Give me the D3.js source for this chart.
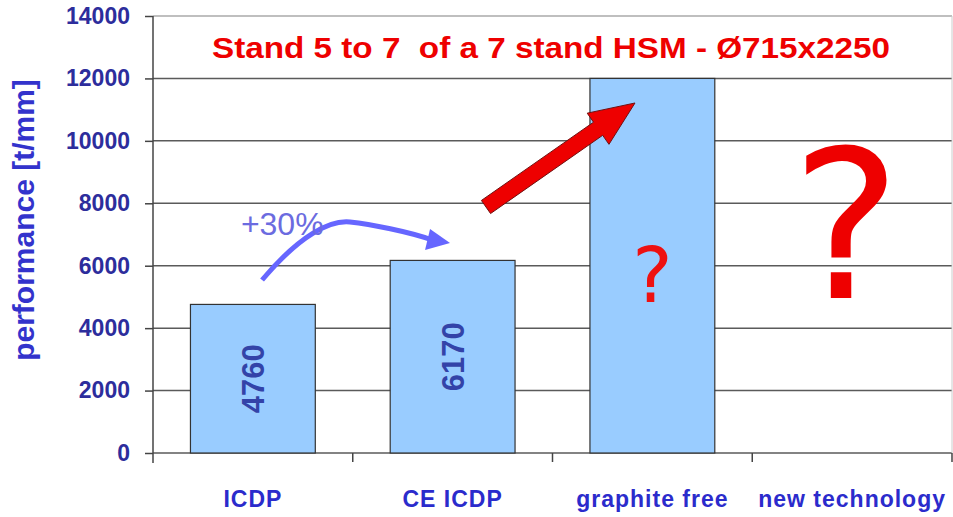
<!DOCTYPE html>
<html>
<head>
<meta charset="utf-8">
<script src="https://cdn.jsdelivr.net/npm/d3@7"></script>
<style>
  body { margin: 0; background: #fff; }
  text { font-family: "Liberation Sans", Arial, sans-serif; }
  text.qmark { font-family: Verdana, "DejaVu Sans", "Liberation Sans"; }
</style>
</head>
<body>
<script>
// chart data
var categories = ["ICDP", "CE ICDP", "graphite free", "new technology"];
var values = [4760, 6170, 12000, null];
var barLabels = ["4760", "6170", "?", ""];
var yTicks = [0, 2000, 4000, 6000, 8000, 10000, 12000, 14000];
var title = "Stand 5 to 7  of a 7 stand HSM - \u00d8715x2250";
var yTitle = "performance [t/mm]";

var svgWidth = 953;
var svgHeight = 517;

var margin = { top: 16, right: 1, bottom: 64, left: 153 };
var chartWidth = svgWidth - margin.left - margin.right;
var chartHeight = svgHeight - margin.top - margin.bottom;

var svg = d3.select("body")
  .append("svg")
  .attr("width", svgWidth)
  .attr("height", svgHeight);

var chartGroup = svg.append("g")
  .attr("transform", `translate(${margin.left}, ${margin.top})`);

var xBand = d3.scaleBand()
  .domain(categories)
  .range([0, chartWidth])
  .paddingInner(0.375)
  .paddingOuter(0.1875);

// continuous version of the category axis, for the annotations
var xUnit = d3.scaleLinear().domain([0, categories.length]).range([0, chartWidth]);

var yLinearScale = d3.scaleLinear()
  .domain([0, 14000])
  .range([chartHeight, 0]);

// gridlines
chartGroup.append("g")
  .selectAll("line")
  .data(yTicks)
  .enter()
  .append("line")
  .attr("x1", 0)
  .attr("x2", chartWidth)
  .attr("y1", d => yLinearScale(d))
  .attr("y2", d => yLinearScale(d))
  .attr("stroke", d => d == 14000 ? "#aaa" : "#5a5a5a")
  .attr("stroke-width", 1.5);

// right border
chartGroup.append("line")
  .attr("x1", chartWidth).attr("x2", chartWidth)
  .attr("y1", 0).attr("y2", chartHeight)
  .attr("stroke", "#ccc");

// y axis
var leftAxis = d3.axisLeft(yLinearScale)
  .tickValues(yTicks)
  .tickSize(8)
  .tickPadding(15)
  .tickFormat(d3.format("d"));

var yAxisG = chartGroup.append("g").call(leftAxis);
yAxisG.select(".domain").remove();
yAxisG.selectAll(".tick line").attr("stroke", "#444").attr("stroke-width", 1.5);
yAxisG.selectAll(".tick text")
  .style("font-size", "23px")
  .style("font-weight", "bold")
  .style("font-family", "'Liberation Sans', Arial, sans-serif")
  .attr("fill", "#2d2d9c");

chartGroup.append("line")
  .attr("x1", 0).attr("x2", 0)
  .attr("y1", 0).attr("y2", chartHeight + 10)
  .attr("stroke", "#444")
  .attr("stroke-width", 1.5);

// x axis ticks between categories
chartGroup.append("g")
  .selectAll("line")
  .data(d3.range(1, categories.length + 1))
  .enter()
  .append("line")
  .attr("x1", d => xUnit(d))
  .attr("x2", d => xUnit(d))
  .attr("y1", chartHeight)
  .attr("y2", chartHeight + 9)
  .attr("stroke", "#444")
  .attr("stroke-width", 1.5);

// x labels
chartGroup.append("g")
  .selectAll("text")
  .data(categories)
  .enter()
  .append("text")
  .attr("x", d => xBand(d) + xBand.bandwidth() / 2)
  .attr("y", chartHeight + 54)
  .attr("text-anchor", "middle")
  .style("font-size", "23px")
  .style("font-weight", "bold")
  .style("letter-spacing", "1px")
  .attr("fill", "#2b2bcc")
  .text(d => d);

// bars
chartGroup.append("g")
  .selectAll("rect")
  .data(categories.filter((c, i) => values[i] != null))
  .enter()
  .append("rect")
  .attr("x", d => xBand(d))
  .attr("width", xBand.bandwidth())
  .attr("y", d => yLinearScale(values[categories.indexOf(d)]))
  .attr("height", d => chartHeight - yLinearScale(values[categories.indexOf(d)]))
  .attr("fill", "#99ccff")
  .attr("stroke", "#333")
  .attr("stroke-width", 1.2);

// value labels inside bars
categories.forEach(function(c, i) {
  if (values[i] == null || barLabels[i] == "") return;
  var cx = xBand(c) + xBand.bandwidth() / 2;
  var cy = (yLinearScale(values[i]) + chartHeight) / 2;
  if (barLabels[i] == "?") {
    chartGroup.append("text")
      .attr("class", "qmark")
      .attr("x", cx)
      .attr("y", yLinearScale(4840))
      .attr("text-anchor", "middle")
      .style("font-size", "76px")
      .attr("fill", "#ee1111")
      .text("?");
  } else {
    chartGroup.append("text")
      .attr("transform", `translate(${cx}, ${cy}) rotate(-90)`)
      .attr("text-anchor", "middle")
      .attr("dy", "0.36em")
      .style("font-size", "31px")
      .style("font-weight", "bold")
      .attr("fill", "#3343a8")
      .text(barLabels[i]);
  }
});

// big question mark for the new technology
chartGroup.append("text")
  .attr("class", "qmark")
  .attr("x", xUnit(3.47))
  .attr("y", yLinearScale(4966))
  .attr("text-anchor", "middle")
  .style("font-size", "206px")
  .attr("fill", "#ee0000")
  .text("?");

// +30% curved arrow
var P = (u, v) => [xUnit(u), yLinearScale(v)];
var s = P(0.546, 5542), c1 = P(0.736, 6984), c2 = P(0.886, 7465), pk = P(0.986, 7400),
    c3 = P(1.287, 7080), e = P(1.397, 6824);
chartGroup.append("path")
  .attr("d", `M${s} C${c1} ${c2} ${pk} S${c3} ${e}`)
  .attr("fill", "none")
  .attr("stroke", "#6666ff")
  .attr("stroke-width", 5);
chartGroup.append("polygon")
  .attr("points", [P(1.487, 6728), P(1.387, 7176), P(1.362, 6503)].join(" "))
  .attr("fill", "#6666ff");

chartGroup.append("text")
  .attr("x", xUnit(0.44))
  .attr("y", yLinearScale(7000))
  .style("font-size", "32px")
  .attr("fill", "#6b6be0")
  .text("+30%");

// red block arrow
var tail = P(1.667, 7881), tip = P(2.413, 11213);
var dx = tip[0] - tail[0], dy = tip[1] - tail[1];
var len = Math.sqrt(dx * dx + dy * dy);
var ux = dx / len, uy = dy / len, nx = -uy, ny = ux;
var shaftW = 16, headW = 38, headL = 45;
var bx = tip[0] - ux * headL, by = tip[1] - uy * headL;
var arrowPts = [
  [tail[0] + nx * shaftW / 2, tail[1] + ny * shaftW / 2],
  [bx + nx * shaftW / 2, by + ny * shaftW / 2],
  [bx + nx * headW / 2, by + ny * headW / 2],
  tip,
  [bx - nx * headW / 2, by - ny * headW / 2],
  [bx - nx * shaftW / 2, by - ny * shaftW / 2],
  [tail[0] - nx * shaftW / 2, tail[1] - ny * shaftW / 2]
];
chartGroup.append("polygon")
  .attr("points", arrowPts.map(p => p.join(",")).join(" "))
  .attr("fill", "#ee0000")
  .attr("stroke", "#701010")
  .attr("stroke-width", 1);

// title
svg.append("text")
  .attr("x", 212)
  .attr("y", 58)
  .attr("textLength", 678)
  .attr("lengthAdjust", "spacingAndGlyphs")
  .style("white-space", "pre")
  .style("font-size", "29px")
  .style("font-weight", "bold")
  .attr("fill", "#ee0000")
  .text(title);

// y axis title
svg.append("text")
  .attr("transform", "translate(34, 220) rotate(-90)")
  .attr("text-anchor", "middle")
  .style("font-size", "30px")
  .style("font-weight", "bold")
  .attr("fill", "#3333cc")
  .text(yTitle);
</script>
</body>
</html>
